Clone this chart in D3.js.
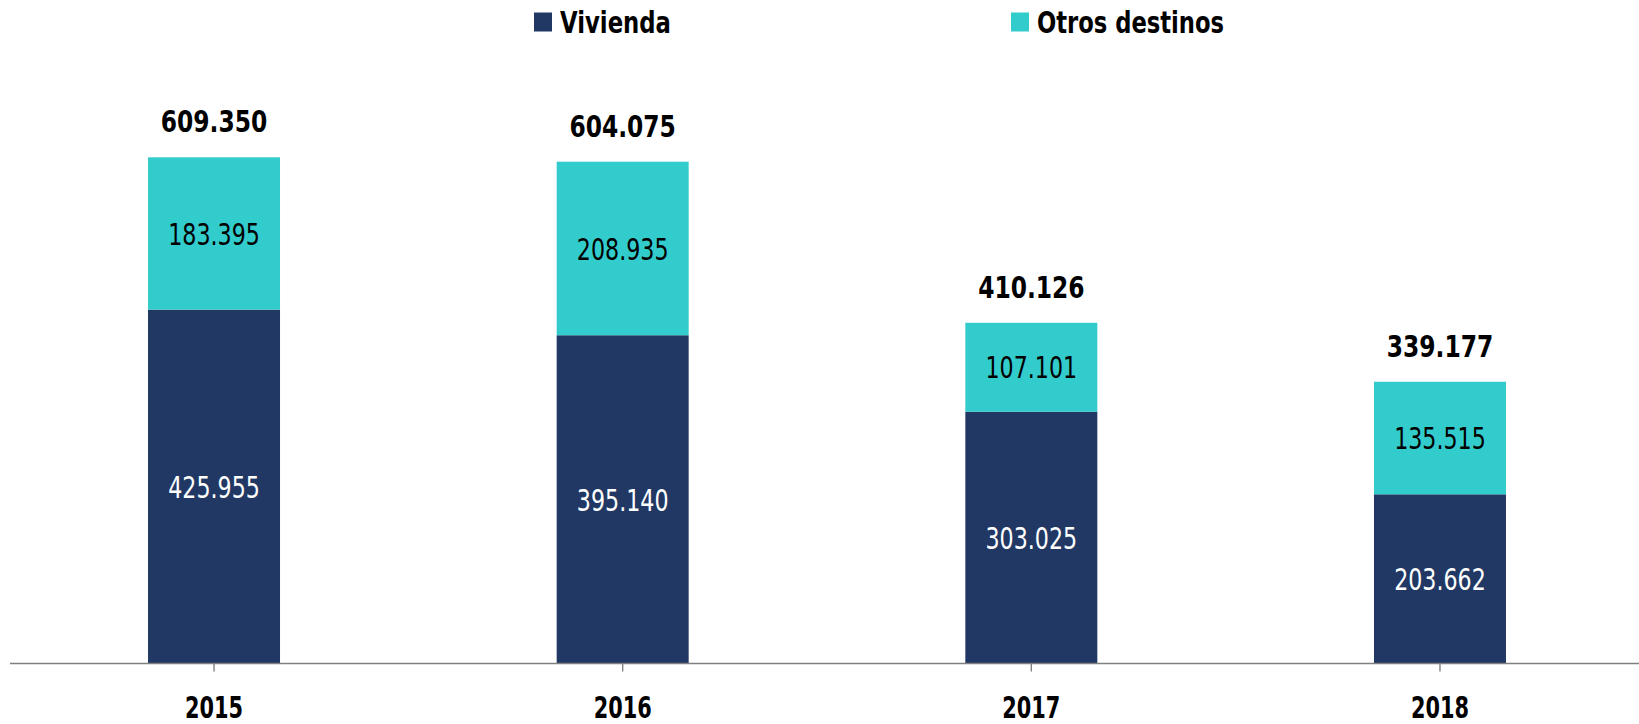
<!DOCTYPE html>
<html>
<head>
<meta charset="utf-8">
<title>Vivienda / Otros destinos</title>
<script src="https://d3js.org/d3.v7.min.js"></script>
<style>
    body { margin: 0; background: #fff; }
    text { font-family: "DejaVu Sans Condensed", "DejaVu Sans", sans-serif; }
</style>
</head>
<body>
<script>
    // datos
    var years = ["2015", "2016", "2017", "2018"];
    var vivienda = [425955, 395140, 303025, 203662];
    var otros = [183395, 208935, 107101, 135515];
    var seriesNames = ["Vivienda", "Otros destinos"];
    var seriesColors = ["#213864", "#33CCCC"];

    var width = 1639, height = 724;
    var baseY = 663.5;

    var fmt = function(v){
        return d3.format(",")(v).replace(/,/g, ".");
    };

    // fuente estrecha: se aprieta el texto al ancho del original
    function squeeze(sel, perChar){
        sel.attr("textLength", function(){ return this.textContent.length * perChar; })
           .attr("lengthAdjust", "spacingAndGlyphs");
    }

    var svg = d3.select("body").append("svg")
        .attr("width", width)
        .attr("height", height);

    var x = d3.scaleBand()
        .domain(years)
        .range([9.7, 1644.3])
        .paddingInner(0.677)
        .paddingOuter(0.3385);

    var y = d3.scaleLinear()
        .domain([0, 700000])
        .range([baseY, 82]);

    var rows = years.map(function(yr, i){
        return { year: yr, Vivienda: vivienda[i], "Otros destinos": otros[i] };
    });
    var stacked = d3.stack().keys(seriesNames)(rows);

    // barras
    var layers = svg.selectAll(".layer")
        .data(stacked)
        .enter().append("g")
        .attr("class", "layer")
        .attr("fill", function(d, i){ return seriesColors[i]; });

    layers.selectAll("rect")
        .data(function(d){ return d; })
        .enter().append("rect")
        .attr("x", function(d){ return x(d.data.year); })
        .attr("y", function(d){ return y(d[1]); })
        .attr("width", x.bandwidth())
        .attr("height", function(d){ return y(d[0]) - y(d[1]); });

    // etiquetas dentro de las barras
    layers.selectAll(".inner")
        .data(function(d, i){ return d.map(function(p){ return { p: p, s: i }; }); })
        .enter().append("text")
        .attr("class", "inner")
        .attr("x", function(d){ return x(d.p.data.year) + x.bandwidth() / 2; })
        .attr("y", function(d){ return (y(d.p[0]) + y(d.p[1])) / 2; })
        .attr("dy", "0.36em")
        .attr("text-anchor", "middle")
        .attr("fill", function(d){ return d.s === 0 ? "#ffffff" : "#000000"; })
        .style("font-size", "31px")
        .style("font-weight", "300")
        .text(function(d){ return fmt(d.p[1] - d.p[0]); })
        .call(squeeze, 13.1);

    // totales
    svg.selectAll(".total")
        .data(rows)
        .enter().append("text")
        .attr("class", "total")
        .attr("x", function(d){ return x(d.year) + x.bandwidth() / 2; })
        .attr("y", function(d){ return y(d.Vivienda + d["Otros destinos"]) - 25; })
        .attr("text-anchor", "middle")
        .attr("fill", "#000")
        .style("font-size", "31px")
        .style("font-weight", "bold")
        .text(function(d){ return fmt(d.Vivienda + d["Otros destinos"]); })
        .call(squeeze, 15.2);

    // eje x
    var axis = svg.append("g")
        .attr("transform", "translate(0," + baseY + ")")
        .call(d3.axisBottom(x).tickSize(8).tickSizeOuter(0));
    axis.select(".domain")
        .attr("d", "M10,0H" + width)
        .attr("stroke", "#808080")
        .attr("stroke-width", 1.4);
    axis.selectAll(".tick line")
        .attr("stroke", "#808080")
        .attr("stroke-width", 1.4);
    axis.selectAll(".tick text")
        .attr("y", 54)
        .attr("dy", 0)
        .attr("fill", "#000")
        .style("font-size", "30px")
        .style("font-weight", "bold")
        .call(squeeze, 14.5);

    // leyenda
    var legendX = [534, 1011];
    var legendW = [111, 187];
    var legend = svg.selectAll(".legend")
        .data(seriesNames)
        .enter().append("g")
        .attr("class", "legend")
        .attr("transform", function(d, i){ return "translate(" + legendX[i] + ",0)"; });
    legend.append("rect")
        .attr("x", 0).attr("y", 12.5)
        .attr("width", 18).attr("height", 19)
        .attr("fill", function(d, i){ return seriesColors[i]; });
    legend.append("text")
        .attr("x", 26).attr("y", 33)
        .attr("fill", "#000")
        .style("font-size", "31px")
        .style("font-weight", "bold")
        .attr("textLength", function(d, i){ return legendW[i]; })
        .attr("lengthAdjust", "spacingAndGlyphs")
        .text(function(d){ return d; });
</script>
</body>
</html>
